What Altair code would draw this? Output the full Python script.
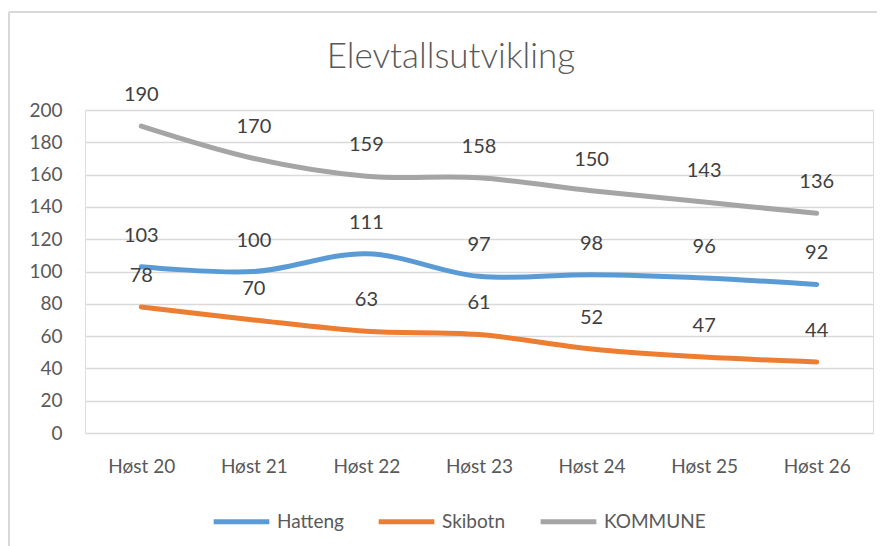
import altair as alt
import pandas as pd

categories = ["Høst 20", "Høst 21", "Høst 22", "Høst 23", "Høst 24", "Høst 25", "Høst 26"]
hatteng = [103, 100, 111, 97, 98, 96, 92]
skibotn = [78, 70, 63, 61, 52, 47, 44]
kommune = [190, 170, 159, 158, 150, 143, 136]
series_names = ["Hatteng", "Skibotn", "KOMMUNE"]
series_colors = ["#5B9BD5", "#ED7D31", "#A5A5A5"]
y_ticks = [0, 20, 40, 60, 80, 100, 120, 140, 160, 180, 200]
title_text = "Elevtallsutvikling"

rows = []
for name, vals in zip(series_names, [hatteng, skibotn, kommune]):
    for i, (c, v) in enumerate(zip(categories, vals)):
        rows.append({"Høst": c, "serie": name, "verdi": v, "order": i})
df = pd.DataFrame(rows)

FONT = "Lato"
W, H = 788, 323

x_enc = alt.X("Høst:N", sort=categories,
              scale=alt.Scale(type="point", padding=0.5),
              axis=alt.Axis(title=None, labelAngle=0, domain=False, ticks=False,
                            grid=False, labelPadding=24, labelFontSize=19,
                            labelColor="#595959", labelFont=FONT))
y_enc = alt.Y("verdi:Q", scale=alt.Scale(domain=[0, 200], nice=False),
              axis=alt.Axis(title=None, values=y_ticks, domain=False, ticks=False,
                            grid=True, gridColor="#d9d9d9", gridWidth=1.3,
                            labelOverlap=False, labelPadding=23, labelFontSize=19,
                            labelColor="#595959", labelFont=FONT))
color_enc = alt.Color("serie:N", sort=series_names,
                      scale=alt.Scale(domain=series_names, range=series_colors),
                      legend=alt.Legend(title=None, orient="none", direction="horizontal",
                                        legendX=126, legendY=381,
                                        symbolType="stroke", symbolSize=3100,
                                        symbolStrokeWidth=5, labelFontSize=19,
                                        labelFont=FONT, labelColor="#595959",
                                        labelOffset=5, columnPadding=24))

base = alt.Chart(df).encode(x=x_enc, y=y_enc)
lines = base.mark_line(strokeWidth=5, interpolate="catmull-rom", strokeCap="round").encode(
    color=color_enc, order="order:Q")
labels = base.mark_text(dy=-31, fontSize=20, font=FONT, color="#404040").encode(
    text="verdi:Q")

one = pd.DataFrame({"t": [title_text]})
title = alt.Chart(one).mark_text(fontSize=35, font=FONT, fontWeight=300, color="#595959",
                                 baseline="middle").encode(
    x=alt.value(366), y=alt.value(-53), text="t:N")

frame_top = alt.Chart(one).mark_rule(color="#d9d9d9", strokeWidth=2).encode(
    x=alt.value(-76), x2=alt.value(820), y=alt.value(-98))
frame_left = alt.Chart(one).mark_rule(color="#d9d9d9", strokeWidth=2).encode(
    x=alt.value(-76), y=alt.value(-98), y2=alt.value(450))

chart = alt.layer(frame_top, frame_left, title, lines, labels).properties(
    width=W, height=H,
    autosize=alt.AutoSizeParams(type="none"),
    padding={"left": 77, "top": 102, "right": 4, "bottom": 113},
).configure_view(stroke=None).configure(background="white")

chart.save("out.html", embed_options={"renderer": "svg", "actions": False})
